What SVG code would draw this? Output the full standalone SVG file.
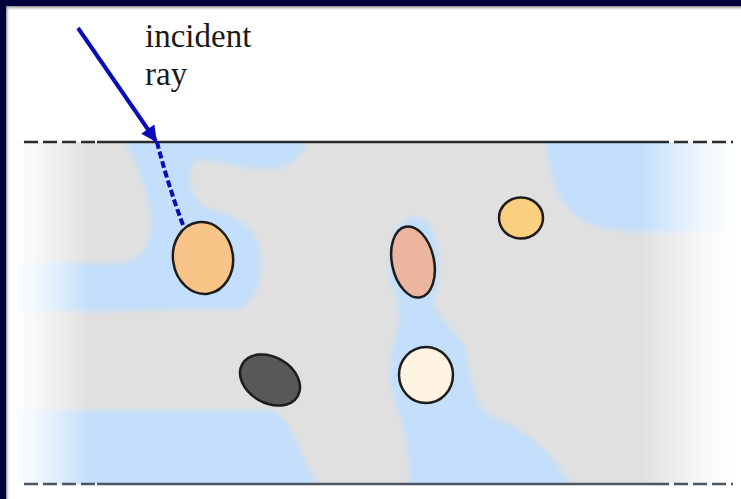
<svg xmlns="http://www.w3.org/2000/svg" width="741" height="499" viewBox="0 0 741 499">
  <defs>
    <style>
      .water { fill: #c3dffb; }
      .grain { stroke: #1c1c1c; stroke-width: 2.5; }
      .label { font-family: "Liberation Serif", "Times New Roman", serif; font-size: 33px; fill: #1a1a1a; }
      .edge-solid { stroke-width: 2.6; fill: none; }
      .edge-dash { stroke-width: 2.6; fill: none; stroke-dasharray: 14 5; }
    </style>
    <filter id="soft" x="-5%" y="-5%" width="110%" height="110%">
      <feGaussianBlur stdDeviation="2.5"/>
    </filter>
    <clipPath id="layerClip">
      <rect x="10" y="142" width="731" height="342"/>
    </clipPath>
    <linearGradient id="fadeLeft" x1="10" y1="0" x2="90" y2="0" gradientUnits="userSpaceOnUse">
      <stop offset="0" stop-color="#ffffff" stop-opacity="1"/>
      <stop offset="0.3" stop-color="#ffffff" stop-opacity="0.8"/>
      <stop offset="1" stop-color="#ffffff" stop-opacity="0"/>
    </linearGradient>
    <linearGradient id="fadeRight" x1="640" y1="0" x2="736" y2="0" gradientUnits="userSpaceOnUse">
      <stop offset="0" stop-color="#ffffff" stop-opacity="0"/>
      <stop offset="0.7" stop-color="#ffffff" stop-opacity="0.8"/>
      <stop offset="1" stop-color="#ffffff" stop-opacity="1"/>
    </linearGradient>
    <linearGradient id="shadowTop" x1="0" y1="5" x2="0" y2="11" gradientUnits="userSpaceOnUse">
      <stop offset="0" stop-color="#333333" stop-opacity="0.9"/>
      <stop offset="1" stop-color="#ffffff" stop-opacity="0"/>
    </linearGradient>
    <linearGradient id="shadowLeft" x1="5" y1="0" x2="10" y2="0" gradientUnits="userSpaceOnUse">
      <stop offset="0" stop-color="#333333" stop-opacity="0.9"/>
      <stop offset="1" stop-color="#ffffff" stop-opacity="0"/>
    </linearGradient>
    <marker id="arrow" viewBox="0 0 10 10" refX="9" refY="5" markerWidth="5" markerHeight="4" orient="auto" markerUnits="strokeWidth">
      <path d="M0,0 L10,5 L0,10 Z" fill="#0b0bb8"/>
    </marker>
  </defs>

  <!-- page -->
  <rect x="0" y="0" width="741" height="499" fill="#ffffff"/>

  <!-- porous layer -->
  <g id="layer">
    <rect x="10" y="142" width="731" height="342" fill="#e0e0e0"/>
    <g clip-path="url(#layerClip)">
      <g filter="url(#soft)">
        <!-- pore water, upper left around the entry point -->
        <path class="water" d="M122,136 L310,136 C302,158 290,168 270,169 C240,170 205,155 193,162 C187,175 190,196 202,205 C220,214 256,218 260,252 C263,282 255,300 240,309 L4,312 L4,263 L118,263 C145,262 153,240 150,214 C147,186 136,162 122,136 Z"/>
        <!-- pore water, lower left -->
        <path class="water" d="M4,410 L268,410 C288,413 294,438 304,458 C312,474 318,490 326,490 L4,490 Z"/>
        <!-- pore water, central channel -->
        <path class="water" d="M401,224 C388,240 384,282 398,300 L400,322 C392,340 386,375 394,398 C400,418 410,440 410,490 L574,490 C556,458 532,432 495,418 C472,408 470,372 466,350 C458,332 440,322 433,302 C442,280 442,240 427,222 C418,214 407,216 401,224 Z"/>
        <!-- pore water, upper right -->
        <path class="water" d="M546,136 C549,190 565,228 625,231 L748,233 L748,136 Z"/>
      </g>
    </g>
    <!-- edge fades -->
    <rect x="10" y="142" width="80" height="342" fill="url(#fadeLeft)"/>
    <rect x="640" y="142" width="101" height="342" fill="url(#fadeRight)"/>
  </g>

  <!-- layer boundaries -->
  <g id="boundaries">
    <line class="edge-dash" x1="24" y1="142" x2="97" y2="142" stroke="#2b2b2b"/>
    <line class="edge-solid" x1="97" y1="142" x2="655" y2="142" stroke="#2b2b2b"/>
    <line class="edge-dash" x1="655" y1="142" x2="733" y2="142" stroke="#2b2b2b"/>
    <line class="edge-dash" x1="24" y1="484" x2="97" y2="484" stroke="#4b5663"/>
    <line class="edge-solid" x1="97" y1="484" x2="655" y2="484" stroke="#4b5663"/>
    <line class="edge-dash" x1="655" y1="484" x2="733" y2="484" stroke="#4b5663"/>
  </g>

  <!-- particles -->
  <g id="grain-orange">
    <ellipse class="grain" cx="203" cy="258" rx="30" ry="36" transform="rotate(-8 203 258)" fill="#f9c488"/>
  </g>
  <g id="grain-salmon">
    <ellipse class="grain" cx="413" cy="262" rx="21" ry="36" transform="rotate(-12 413 262)" fill="#ecb59f"/>
  </g>
  <g id="grain-yellow">
    <ellipse class="grain" cx="521" cy="218" rx="22" ry="20.5" fill="#fbcf80"/>
  </g>
  <g id="grain-dark">
    <ellipse class="grain" cx="270" cy="380" rx="32" ry="23" transform="rotate(30 270 380)" fill="#585858"/>
  </g>
  <g id="grain-cream">
    <ellipse class="grain" cx="426" cy="375" rx="27" ry="28" fill="#fff3e1"/>
  </g>

  <!-- ray path -->
  <g id="connectors">
    <line x1="78" y1="28" x2="156" y2="141" stroke="#0b0bb8" stroke-width="4" marker-end="url(#arrow)"/>
    <path d="M157,142 C162,162 172,196 183,225" fill="none" stroke="#0b0bb8" stroke-width="4" stroke-dasharray="7 3"/>
  </g>

  <!-- label -->
  <g id="label-incident-ray">
    <text class="label" x="145" y="47">incident</text>
    <text class="label" x="145" y="85">ray</text>
  </g>

  <!-- frame -->
  <g id="frame">
    <rect x="0" y="5" width="741" height="6" fill="url(#shadowTop)"/>
    <rect x="5" y="0" width="5" height="499" fill="url(#shadowLeft)"/>
    <rect x="0" y="0" width="741" height="6" fill="#00003d"/>
    <rect x="0" y="0" width="6" height="499" fill="#00003d"/>
  </g>
</svg>
